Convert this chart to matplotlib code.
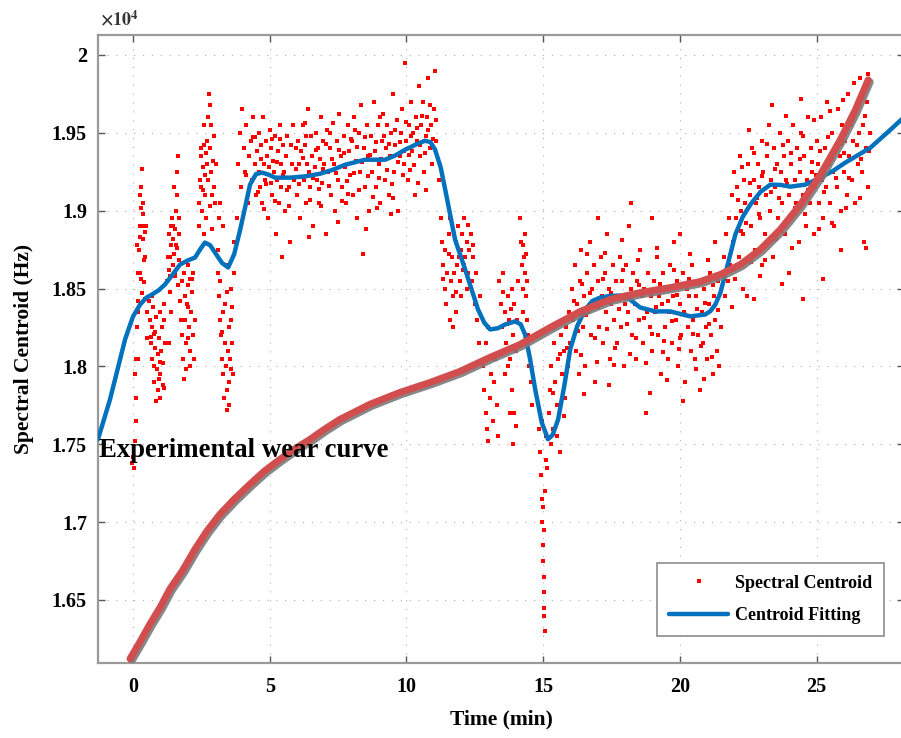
import matplotlib
matplotlib.use("Agg")
import matplotlib.pyplot as plt
import matplotlib.patheffects as pe
from matplotlib.ticker import FuncFormatter

plt.rcParams['font.family'] = ['Liberation Serif', 'DejaVu Serif']
plt.rcParams['font.weight'] = 'bold'
plt.rcParams['mathtext.fontset'] = 'stix'

# ---------------- data ----------------
# Spectral centroid samples (time in min, centroid in Hz)
pts_start = [(0.05,17350),(0.08,17520),(0.1,17800),(0.12,18050),(0.15,18250),(0.18,18420),(0.2,18600),(0.22,18750),
             (0.25,18900),(0.28,19020),(0.3,19150),(0.32,19270),(0.35,18980),(0.38,18820),(0.4,18680),(0.42,18540),
             (0.45,18700),(0.48,18900),(0.5,18350),(0.52,18180),(0.2,18050),(0.27,18600),(0.33,18470),(0.36,19050),
             (0.44,18860),(0.1,17650),(0.0,17420),(-0.05,17380),(0.06,17950),(0.15,18780),(0.3,18560),(0.4,18900),(0.24,19100),
             (0.6,18420),(0.62,18300),(0.65,18150),(0.68,18050),(0.7,18250),(0.72,18380),(0.75,18000),(0.78,17900),
             (0.8,18120),(0.82,18220),(0.85,18320),(0.88,17980),(0.9,17850),(0.92,18080),(0.95,18180),(0.98,17800),
             (1.0,17950),(1.02,18100),(1.05,18250),(1.08,17880),(1.1,18020),(1.12,18400),(1.15,18300),(1.18,18150),
             (0.7,18450),(0.85,17780),(1.0,18350),(0.66,18190),(0.94,17920),
             (1.25,18550),(1.28,18700),(1.3,18850),(1.32,18620),(1.35,18480),(1.38,18780),(1.4,18900),(1.42,18950),
             (1.45,18650),(1.48,18820),(1.5,18720),(1.52,18580),(1.55,18880),(1.58,19000),(1.6,19100),(1.62,19250),
             (1.65,19350),(1.68,18850),(1.7,18680),(1.72,18420),(1.75,18300),(1.78,18550),(1.8,18200),(1.82,18050),
             (1.6,18760),(1.45,18900),(1.35,18700),(1.5,19150),(1.7,18950),(1.55,18600),(1.4,18350),(1.3,18150),(1.85,17920),
             (1.88,18600),(1.9,18450),(1.92,18300),(1.95,18150),(1.98,18400),(2.0,18520),(2.02,18650),(2.05,18250),
             (2.08,18100),(2.1,18000),(2.12,18350),(2.15,18480),(2.18,18200),(2.2,18600),(2.22,18050),(2.25,18300),
             (2.0,18380),(2.1,18560),(1.95,17980),
             (2.4,18900),(2.42,19050),(2.45,19200),(2.48,19350),(2.5,19150),(2.52,19000),(2.55,19280),(2.58,19420),
             (2.6,19550),(2.62,19230),(2.65,19100),(2.68,18950),(2.7,19300),(2.72,19450),(2.75,19600),(2.78,19750),
             (2.8,19680),(2.82,19400),(2.85,19250),(2.88,19100),(2.9,18880),(2.92,19320),(2.95,19480),(2.98,19150),
             (3.0,19050),(2.6,18850),(2.75,19200),(2.5,19400),(2.85,19550),(3.02,19300),
             (3.1,18750),(3.12,18600),(3.15,18450),(3.18,18300),(3.2,18550),(3.22,18200),(3.25,18050),(3.28,18350),
             (3.3,17950),(3.32,17800),(3.35,18150),(3.38,18400),(3.4,18000),(3.42,17850),(3.45,17720),(3.48,18100),
             (3.5,18250),(3.52,17900),(3.55,18050),(3.58,18300),(3.6,18500),(3.62,18150),(3.65,17950),(3.68,18600),
             (3.7,18800),(3.3,18900),(3.2,19050),(3.5,17750),(3.4,18650),(3.15,18950),
             (0.17,18350),(0.26,18830),(0.43,18430),(0.77,18210),(0.97,18030),(1.13,17860),(1.37,18580),(1.57,18780),
             (1.63,18520),(2.03,18180),(2.17,18560),(2.57,19130),(2.67,19370),(2.83,19030),(3.27,18220),(3.43,18480),
             (3.57,17980),(3.63,18380)]

pts_plateau = [(3.8,18950),(3.85,19300),(3.9,19500),(3.95,19150),(4.0,19650),(4.05,19400),(4.1,19250),(4.15,19550),
               (4.2,19050),(4.25,19350),(4.3,19450),(4.35,19200),(4.4,19600),(4.45,19300),(4.5,19100),
               (4.55,19380),(4.6,19250),(4.62,19500),(4.65,19150),(4.7,19420),(4.72,19050),(4.75,19600),(4.8,19300),
               (4.83,19200),(4.86,19450),(4.9,19350),(4.93,18950),(4.96,19280),(5.0,19520),(5.03,19180),(5.06,19400),
               (5.1,19100),(5.13,19320),(5.16,19250),(5.2,19480),(5.23,18850),(5.26,19200),(5.3,19380),(5.33,19050),
               (5.36,19550),(5.4,19300),(5.43,19150),(5.46,18700),(5.5,19420),(5.53,19250),(5.56,19000),(5.6,19350),
               (5.65,19480),(5.7,19150),(5.75,18800),(5.8,19300),(5.85,19550),(5.9,19200),(5.95,19400),
               (6.0,19100),(6.04,19450),(6.08,19300),(6.12,18950),(6.16,19380),(6.2,19550),(6.24,19200),(6.28,19420),
               (6.32,19050),(6.36,19300),(6.4,19650),(6.44,19250),(6.48,19150),(6.52,19480),(6.56,19350),(6.6,18900),
               (6.64,19280),(6.68,19500),(6.72,19200),(6.76,19400),(6.8,19050),(6.84,19330),(6.88,19600),(6.92,19180),
               (6.96,19450),(7.0,19300),(7.05,18850),(7.1,19520),(7.15,19250),(7.2,19400),(7.25,19100),(7.3,19560),
               (7.35,19300),(7.4,19000),(7.45,19450),(7.5,19200),(7.55,19620),(7.6,19350),(7.65,19150),(7.7,19480),
               (7.75,19280),(7.8,19050),(7.85,19550),(7.9,19380),(7.95,19230),
               (8.0,19450),(8.05,19100),(8.1,19600),(8.15,19320),(8.2,18950),(8.25,19500),(8.3,19250),(8.35,19680),
               (8.4,18720),(8.45,19400),(8.5,19150),(8.55,19550),(8.6,19350),(8.65,19000),(8.7,19480),(8.75,19250),
               (8.8,19700),(8.85,19380),(8.9,19150),(8.95,19550),(9.0,19300),(9.05,19050),(9.1,19450),(9.15,19620),
               (9.2,19200),(9.25,19400),(9.3,19550),(9.35,19100),(9.4,19350),(9.45,19500),(9.5,19750),(9.55,19250),
               (9.6,19420),(9.65,19580),(9.7,19000),(9.75,19350),(9.8,19500),(9.85,19650),(9.9,19300),(9.95,19950),
               (10.0,19450),(10.05,19200),(10.1,19550),(10.15,19700),(10.2,19380),(10.25,19500),(10.3,19100),
               (10.35,19600),(10.4,19450),(10.45,19800),(10.5,19350),(10.55,19550),(10.6,19700),(10.65,19250),
               (10.7,19480),(10.75,19600),(10.8,19850),(10.85,19400),(10.9,19550),(10.95,19300),(11.0,19650),
               (11.05,19900),(11.1,19450),
               (4.12,19230),(4.38,19470),(4.57,19120),(4.68,19330),(4.88,19170),(5.08,19460),(5.18,19060),(5.28,19310),
               (5.47,19230),(5.62,19130),(5.78,19420),(5.97,19270),(6.06,19170),(6.22,19340),(6.34,19480),(6.46,19070),
               (6.58,19210),(6.7,19390),(6.82,19140),(6.94,19270),(7.07,19430),(7.18,19160),(7.28,19330),(7.42,19240),
               (7.53,19390),(7.63,19060),(7.72,19370),(7.83,19190),(7.97,19460),(8.08,19240),(8.18,19410),(8.28,19130),
               (8.38,19310),(8.48,19470),(8.58,19220),(8.68,19360),(8.78,19090),(8.88,19440),(8.98,19210),(9.08,19330),
               (9.18,19480),(9.28,19260),(9.38,19430),(9.48,19170),(9.58,19520),(9.68,19310),(9.78,19440),(9.88,19230),
               (9.98,19570),(10.08,19360),(10.18,19480),(10.28,19290),(10.38,19530),(10.48,19420),(10.58,19610),
               (10.68,19370),(10.78,19520),(10.88,19680),(10.98,19460),(11.08,19580),(4.48,19470),(5.38,19460),
               (6.3,19560),(7.22,19500),(8.12,19520),(9.02,19600),(9.92,19380),(10.12,19260),(5.72,19030),(6.88,19030),
               (7.88,19110),(8.92,19020),(9.52,19080),(4.78,19010),(6.42,18830),(7.48,18930),(8.52,18880),(9.42,18980),
               (10.42,19180),(10.72,19130)]

pts_drop = [(11.2,19200),(11.25,18950),(11.3,18800),(11.35,18650),(11.4,18500),(11.42,18750),(11.45,18400),(11.5,18600),
            (11.55,18850),(11.6,18300),(11.62,18550),(11.65,18700),(11.7,18450),(11.72,18250),(11.75,18600),(11.8,18800),
            (11.85,18650),(11.9,18900),(11.92,18700),(11.95,18550),(12.0,18750),(12.05,18850),(12.1,18650),(12.12,18950),
            (12.15,18700),(12.2,18800),(12.25,18600),(12.3,18750),(12.35,18850),(12.4,18550),(12.45,18700),(12.5,18400),
            (11.6,18950),(11.8,18350),(12.0,18450),(12.2,18500),(12.6,18300),(12.65,18150),(12.7,18450),(12.55,18600),
            (12.8,18000),(12.85,17850),(12.9,17700),(12.95,17600),(13.0,17520),(13.05,17800),(13.1,17950),(13.15,17650),
            (13.2,17900),(13.25,18050),(13.3,17750),(13.35,17550),(12.9,18150),(13.0,18250),
            (13.4,18550),(13.45,18400),(13.5,18250),(13.55,18600),(13.6,18350),(13.65,18150),(13.7,18450),(13.75,18300),
            (13.8,18050),(13.85,18500),(13.9,18200),(13.95,18400),(14.0,18100),(14.05,18300),(14.1,18550),(13.7,18000),
            (13.6,17950),(13.8,17700),(13.9,17500),(13.85,17850),(14.0,17620),(13.95,17700),
            (14.15,18950),(14.2,18800),(14.22,18650),(14.25,18500),(14.28,18350),(14.3,18700),(14.32,18850),(14.35,18600),
            (14.38,18450),(14.4,18300),(14.42,18550),(14.45,18200),(14.5,18000),(14.55,17900),(14.6,17750),
            (14.85,17600),(14.9,17450),(14.92,17300),(14.95,17150),(14.97,17000),(15.0,16850),(15.0,16750),(15.02,16650),
            (15.03,16550),(15.05,16450),(15.06,16300),(15.05,16950),(15.08,17200),(15.1,17400),(15.12,17550),(14.95,17650),
            (15.15,17350),(15.0,17100),(15.02,16400),
            (15.2,17700),(15.25,17850),(15.3,18000),(15.35,17600),(15.4,18150),(15.45,17900),(15.5,17750),(15.55,18050),
            (15.6,17450),(15.65,18200),(15.7,17950),(15.75,18100),(15.8,17800),(15.85,18250),(15.9,18000),(15.95,18350),
            (16.0,18150),(15.5,17550),(15.3,17500),
            (11.33,18560),(11.57,18720),(11.83,18480),(12.07,18620),(12.27,18910),(12.43,18780),(13.52,18480),
            (13.68,18270),(13.82,18370),(14.27,18780),(14.37,18720),(15.38,17830),(15.62,18080),(15.78,17680),(15.88,18120)]

pts_mid = [(16.05,18500),(16.1,18300),(16.15,18650),(16.2,18100),(16.25,18400),(16.3,17950),(16.35,18550),(16.4,18750),
           (16.45,18250),(16.5,18450),(16.55,18000),(16.6,18600),(16.65,18350),(16.7,18800),(16.75,18200),(16.8,18500),
           (16.85,18650),(16.9,17900),(16.95,18400),(17.0,18550),(17.05,18250),(17.1,18700),(17.15,18450),(17.2,18150),
           (17.25,18600),(17.3,18350),(17.35,18850),(17.4,18500),(17.45,18050),(17.5,18400),(17.55,18650),(17.6,18300),
           (17.65,18550),(17.7,18150),(17.75,18450),(17.8,18700),(17.85,18250),(17.9,18550),(17.95,18000),(18.0,18400),
           (18.05,18650),(18.1,18350),(18.15,18900),(18.2,18500),(18.25,18200),(18.3,18600),(18.35,18400),(18.4,18050),
           (18.45,18550),(18.5,18300),(18.55,18750),(18.6,18450),(18.65,18150),(18.7,18500),(18.75,17700),(18.8,18350),
           (18.85,18600),(18.9,18250),(18.95,18450),(19.0,18100),(19.05,18550),(19.1,18350),(19.15,18700),(19.2,18200),
           (19.25,18450),(19.3,17950),(19.35,18400),(19.4,18600),(19.45,18250),(19.5,18500),(19.55,18050),(19.6,18350),
           (19.65,18650),(19.7,18150),(19.75,18450),(19.8,18800),(19.85,18300),(19.9,18550),(19.95,18000),(20.0,18400),
           (20.05,18200),(20.1,18600),(20.15,18350),(20.2,17900),(20.25,18500),(20.3,18250),(20.35,18450),(20.4,18100),
           (20.45,18650),(20.5,18300),(20.55,18050),(20.6,18450),(20.65,18200),(20.7,18550),(20.75,17850),(20.8,18350),
           (20.85,18150),(20.9,18500),(20.95,18250),(21.0,18050),(21.05,18400),(21.1,18600),(21.15,18200),(21.2,17950),
           (21.25,18450),(21.3,18300),(21.35,18100),(21.4,18550),(21.45,18000),(21.5,18250),(18.2,19050),(19.0,18950),
           (17.0,18950),(20.0,18850),(21.3,18800),
           (16.12,18420),(16.28,18230),(16.42,18530),(16.58,18330),(16.72,18470),(16.88,18180),(17.02,18380),
           (17.18,18560),(17.32,18240),(17.48,18470),(17.62,18120),(17.78,18370),(17.92,18620),(18.08,18270),
           (18.22,18440),(18.38,18180),(18.52,18520),(18.68,18310),(18.82,18470),(18.98,18210),(19.12,18380),
           (19.28,18530),(19.42,18160),(19.58,18420),(19.72,18290),(19.88,18460),(20.02,18180),(20.18,18330),
           (20.32,18560),(20.48,18210),(20.62,18370),(20.78,18130),(20.92,18410),(21.08,18270),(21.22,18520),
           (21.38,18360),(16.38,18070),(16.98,18030),(17.58,18010),(18.18,18080),(18.78,18020),(19.38,18090),
           (19.98,18110),(20.58,17980),(21.18,18060),(16.62,18720),(17.28,18730),(17.88,18810),(18.48,18680),
           (19.18,18760),(19.78,18620),(20.38,18720),(21.02,18680),(18.92,17830),(19.52,17910),(20.12,17780),
           (20.88,17920),(17.42,17880),(16.48,17820)]

pts_end = [(21.6,18700),(21.65,18450),(21.7,18850),(21.75,18550),(21.8,18950),(21.85,18650),(21.9,19100),(21.95,18800),
           (22.0,19250),(22.05,18950),(22.1,19150),(22.15,18700),(22.2,19350),(22.25,19000),(22.3,18850),(22.35,19200),
           (22.4,19050),(22.45,18450),(22.5,19300),(22.55,19100),(22.6,18900),(22.65,19400),(22.7,19200),(22.75,18750),
           (22.8,19050),(22.85,19300),(22.9,19150),(22.95,18950),(23.0,19450),(23.05,19250),(23.1,18850),(23.15,19100),
           (23.2,19350),(23.25,19550),(23.3,19000),(23.35,19200),(23.4,18700),(23.45,19400),(23.5,19150),(23.55,19300),
           (23.6,18950),(23.65,19500),(23.7,19250),(23.75,19050),(23.8,19350),(23.85,18850),(23.9,19200),(23.95,19450),
           (24.0,19100),(24.05,19300),(24.1,18950),(24.15,19550),(24.2,19200),(24.25,19050),(24.3,19400),(24.35,18800),
           (24.4,19250),(24.45,19500),(24.5,19100),(24.55,19350),(24.6,18900),(24.65,19200),(24.7,19600),(24.75,19050),
           (24.8,19400),(24.85,19250),(24.9,18850),(24.95,19150),(25.0,19450),(25.05,19300),(25.1,19050),(25.15,19600),
           (25.2,19200),(25.25,18950),(25.3,19400),(25.35,19150),(25.4,19700),(25.45,19300),(25.5,19050),(25.55,19500),
           (25.6,19250),(25.65,18900),(25.7,19400),(25.75,19150),(25.8,19650),(25.85,19350),(25.9,19000),(25.95,19550),
           (26.0,19250),(26.05,19450),(26.1,19100),(26.15,19750),(26.2,19350),(26.25,19550),(26.3,19200),(26.35,19450),
           (26.4,19050),(26.45,19650),(26.5,19300),(26.55,19500),(26.6,19850),(26.65,19250),(26.7,19550),(26.75,18800),
           (26.8,19400),(26.85,19700),(26.9,19150),(26.95,19500),(22.3,18500),(23.0,18650),(24.0,18600),(22.7,18430),
           (25.9,18750),
           (22.12,19070),(22.28,19280),(22.42,18920),(22.58,19180),(22.72,19370),(22.88,18980),(23.02,19220),
           (23.18,19430),(23.32,19120),(23.48,19270),(23.62,19080),(23.78,19420),(23.92,19170),(24.08,19370),
           (24.22,19020),(24.38,19330),(24.52,19480),(24.68,19130),(24.82,19310),(24.98,19230),(25.12,19380),
           (25.28,19120),(25.42,19470),(25.58,19330),(25.72,19210),(25.88,19430),(26.02,19370),(26.18,19210),
           (26.32,19580),(26.48,19420),(26.62,19330),(26.78,19610),(26.92,19380),(22.22,18870),(22.62,18670),
           (23.12,18680),(23.52,18820),(24.12,18760),(24.58,18980),(25.08,18880),(25.58,18920),(26.08,19020),
           (26.58,19080),(22.52,19520),(23.38,19680),(23.88,19610),(24.42,19720),(24.92,19580),(25.48,19640),
           (25.98,19710),(26.38,19820),(26.88,19880),(22.92,18580),(23.72,18530),(24.52,18430),(25.22,18560),
           (26.82,18760),(22.02,18560),(21.92,18380),(22.82,19080)]

# Centroid fitting curve
fit_time = [-1.28,-0.84,-0.29,0.0,0.26,0.48,0.70,0.95,1.17,1.45,1.72,2.0,2.27,2.47,2.63,2.82,3.0,3.25,3.48,3.7,
            3.92,4.1,4.28,4.5,4.72,4.95,5.2,5.74,6.3,6.84,7.3,7.76,8.49,9.22,9.6,9.95,10.35,10.68,10.88,11.05,
            11.25,11.42,11.78,12.15,12.62,12.85,13.06,13.35,13.61,13.98,14.18,14.34,14.52,14.71,14.95,15.18,15.35,
            15.55,15.78,15.99,16.25,16.54,16.8,17.09,17.45,17.82,18.18,18.55,19.1,19.65,20.38,20.93,21.12,21.3,21.48,
            21.66,22.03,22.3,22.58,22.95,23.31,23.7,24.04,24.59,25.14,25.6,26.05,26.97,27.7,28.2]
fit_hz = [17532,17788,18173,18320,18397,18440,18462,18490,18526,18590,18654,18680,18699,18755,18795,18778,18731,
          18665,18635,18720,18878,19020,19167,19235,19244,19232,19212,19212,19220,19237,19262,19295,19327,19327,
          19355,19391,19425,19449,19440,19391,19280,19135,18814,18622,18365,18280,18237,18245,18269,18289,18270,
          18205,18050,17853,17640,17532,17560,17660,17880,18109,18260,18365,18420,18442,18452,18455,18429,18378,
          18353,18353,18321,18333,18355,18397,18470,18590,18846,18960,19039,19120,19167,19165,19154,19167,19212,
          19255,19308,19404,19519,19600]

# Experimental wear curve
wear_time = [-0.11,0.25,0.62,1.0,1.35,1.8,2.27,2.7,3.18,3.7,4.28,4.8,5.38,5.9,6.48,7.0,7.57,8.67,9.77,10.87,11.96,
             13.06,14.16,15.26,16.36,17.45,18.55,19.65,20.75,21.48,22.21,22.94,23.67,24.41,25.14,25.87,26.42,26.89]
wear_hz = [16122,16230,16346,16455,16571,16686,16827,16942,17051,17147,17244,17327,17404,17468,17532,17596,17660,
           17757,17833,17897,17968,18058,18141,18250,18353,18430,18474,18506,18545,18590,18654,18750,18878,19039,
           19231,19455,19647,19840]

x_ticks = [0, 5, 10, 15, 20, 25]
y_ticks = [16500, 17000, 17500, 18000, 18500, 19000, 19500, 20000]

# ---------------- plot ----------------
fig = plt.figure(figsize=(9.01, 7.38), dpi=100)
W, H = 901, 738
ax = fig.add_axes([98 / W, 75 / H, 806 / W, 628 / H])

all_pts = pts_start + pts_plateau + pts_drop + pts_mid + pts_end
sc_t = [p[0] for p in all_pts]
sc_h = [p[1] for p in all_pts]

ax.plot(sc_t, sc_h, ls='none', marker='s', ms=2.2, mew=0, color='#ff0000',
        label='Spectral Centroid', zorder=2)
ax.plot(fit_time, fit_hz, color='#0072BD', lw=3.2, label='Centroid Fitting',
        zorder=3, solid_capstyle='round', solid_joinstyle='round')
ax.plot(wear_time, wear_hz, color='#D24E4E', lw=5, zorder=4, solid_capstyle='round',
        solid_joinstyle='round',
        path_effects=[pe.SimpleLineShadow(offset=(1.5, -1.5), shadow_color='#7a7a7a', alpha=0.9),
                      pe.Normal()])

ax.text(-1.25, 17420, 'Experimental wear curve', fontsize=19.3, fontweight='bold',
        color='black', va='baseline', ha='left', zorder=6)

ax.set_xlim(-1.28, 28.2)
ax.set_ylim(16095, 20128)
ax.set_xticks(x_ticks)
ax.set_yticks(y_ticks)
ax.yaxis.set_major_formatter(FuncFormatter(lambda v, p: f"{v/1e4:g}"))

ax.tick_params(axis='both', direction='in', length=5, width=1, color='#555555',
               labelsize=14.5, pad=8)
ax.tick_params(axis='x', top=True, pad=10)
ax.tick_params(axis='y', right=True)
for lab in ax.get_xticklabels() + ax.get_yticklabels():
    lab.set_fontweight('bold')

for s in ax.spines.values():
    s.set_color('#9a9a9a')
    s.set_linewidth(1.6)

ax.grid(True, color='#b0b0b0', lw=0.8, ls=(0, (1, 7)))

ax.set_xlabel('Time (min)', fontsize=15.5, fontweight='bold', labelpad=9)
ax.set_ylabel('Spectral Centroid (Hz)', fontsize=15.5, fontweight='bold', labelpad=13)

fig.text(100 / W, 1 - 25 / H, r'$\times10^{4}$', fontsize=13, color='#333333',
         ha='left', va='baseline')

leg = ax.legend(loc='upper left', bbox_to_anchor=((657 - 98) / 806, (663 - 563) / 628),
                borderaxespad=0, fontsize=13, frameon=True, fancybox=False, framealpha=1,
                edgecolor='#8c8c8c', handlelength=3.3, numpoints=1, markerscale=1.3,
                borderpad=0.65, labelspacing=0.85, handletextpad=0.35)
leg.get_frame().set_linewidth(1.2)
for t in leg.get_texts():
    t.set_fontweight('bold')

fig.savefig('out.png', dpi=100)
